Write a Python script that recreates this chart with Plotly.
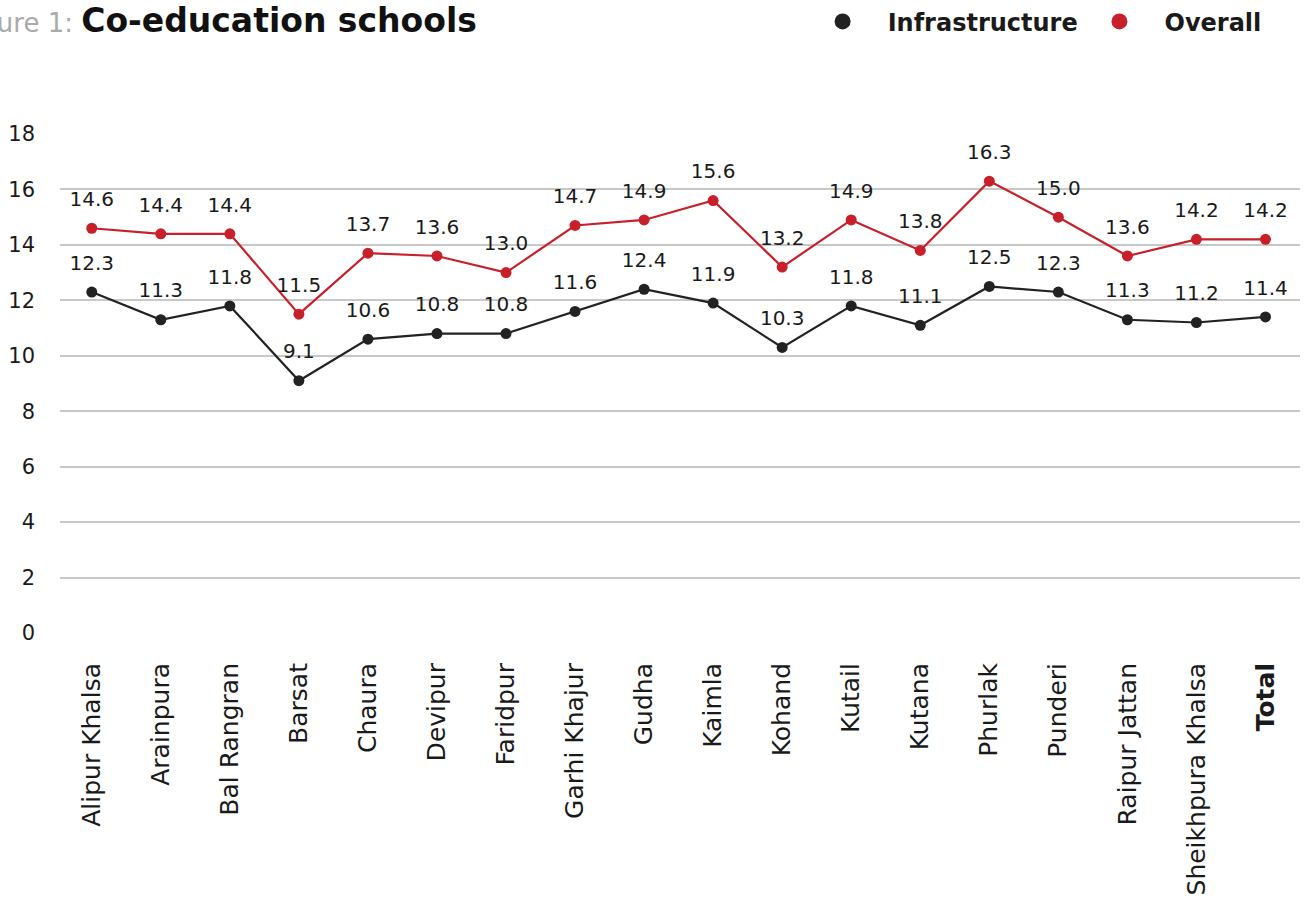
import plotly.graph_objects as go

categories = ["Alipur Khalsa", "Arainpura", "Bal Rangran", "Barsat", "Chaura", "Devipur",
              "Faridpur", "Garhi Khajur", "Gudha", "Kaimla", "Kohand", "Kutail", "Kutana",
              "Phurlak", "Punderi", "Raipur Jattan", "Sheikhpura Khalsa", "Total"]
tick_labels = categories[:-1] + ["<b>Total</b>"]
infrastructure = [12.3, 11.3, 11.8, 9.1, 10.6, 10.8, 10.8, 11.6, 12.4, 11.9, 10.3, 11.8,
                  11.1, 12.5, 12.3, 11.3, 11.2, 11.4]
overall = [14.6, 14.4, 14.4, 11.5, 13.7, 13.6, 13.0, 14.7, 14.9, 15.6, 13.2, 14.9,
           13.8, 16.3, 15.0, 13.6, 14.2, 14.2]
y_ticks = [0, 2, 4, 6, 8, 10, 12, 14, 16, 18]

BLACK = "#222222"
RED = "#c8202a"
FONT = "DejaVu Sans"
NB = "\u00a0"

fig = go.Figure()
for name, vals, col in [("Infrastructure", infrastructure, BLACK), ("Overall", overall, RED)]:
    fig.add_trace(go.Scatter(
        x=categories, y=vals, mode="lines+markers", name=name,
        line=dict(color=col, width=2.2), marker=dict(color=col, size=11),
        showlegend=False, cliponaxis=False, hoverinfo="x+y",
    ))
    # value labels (transparent larger marker pushes label a bit higher)
    fig.add_trace(go.Scatter(
        x=categories, y=vals, mode="markers+text", name=name,
        marker=dict(color="rgba(0,0,0,0)", size=26),
        text=[f"{v:.1f}" for v in vals], textposition="top center",
        textfont=dict(family=FONT, size=20, color="#1a1a1a"),
        showlegend=False, cliponaxis=False, hoverinfo="skip",
    ))
legend_names = [NB * 3 + "Infrastructure" + NB * 2, NB * 3 + "Overall"]
for name, col in zip(legend_names, [BLACK, RED]):
    fig.add_trace(go.Scatter(x=[None], y=[None], mode="markers", name=name,
                             marker=dict(color=col, size=20), showlegend=True))

fig.update_layout(
    width=1305, height=911,
    margin=dict(l=60, r=5, t=134, b=278),
    paper_bgcolor="white", plot_bgcolor="white",
    font=dict(family=FONT, size=20, color="#1a1a1a"),
    legend=dict(orientation="h", x=0.615, xanchor="left", y=0.976, yanchor="middle",
                yref="container", font=dict(family=FONT, size=24, color="#1a1a1a", weight="bold"),
                itemwidth=30, bgcolor="rgba(0,0,0,0)"),
    annotations=[dict(
        text="<span style='color:#aaaaaa;font-weight:normal;font-size:26px'>Figure 1: </span><b>Co-education schools</b>",
        xref="paper", yref="paper", x=-0.0823, y=1.228, xanchor="left", yanchor="middle",
        showarrow=False, font=dict(family=FONT, size=33, color="#111111"),
    )],
)
fig.update_xaxes(type="category", categoryorder="array", categoryarray=categories,
                 tickmode="array", tickvals=categories, ticktext=tick_labels,
                 tickangle=-90, range=[-0.46, 17.5], showgrid=False, showline=False,
                 ticks="", ticklabelstandoff=24, tickfont=dict(size=25))
fig.update_yaxes(range=[0, 18], tickvals=y_ticks, showgrid=True, gridcolor="#c8c8c8",
                 gridwidth=1.5, zeroline=False, showline=False, ticks="",
                 ticklabelstandoff=24, tickfont=dict(size=21))

fig.write_html("out.html", config={"displayModeBar": False},
               post_script="document.body.style.margin='0';")
